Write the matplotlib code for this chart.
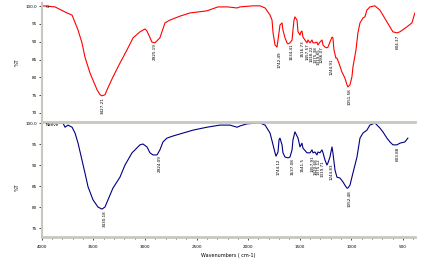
import matplotlib
matplotlib.use("Agg")
import matplotlib.pyplot as plt
from matplotlib.ticker import MultipleLocator, FixedLocator, AutoMinorLocator

# ---- data: sample "Cr" (top, red) ----
cr_wn = [3987, 3871, 3755, 3706, 3648, 3610, 3581, 3532, 3464, 3435, 3416, 3387,
         3367, 3310, 3242, 3174, 3115, 3048, 2999, 2980, 2932, 2903, 2855, 2806,
         2758, 2661, 2564, 2399, 2351, 2293, 2196, 2108, 2079, 1953, 1885, 1836,
         1788, 1769, 1759, 1740, 1721, 1711, 1692, 1672, 1663, 1643, 1624, 1614,
         1595, 1575, 1566, 1556, 1547, 1527, 1517, 1498, 1488, 1479, 1469, 1450,
         1430, 1421, 1401, 1382, 1372, 1353, 1334, 1324, 1305, 1285, 1275, 1256,
         1237, 1227, 1208, 1188, 1179, 1169, 1150, 1140, 1121, 1092, 1063, 1043,
         1034, 1014, 995, 985, 956, 937, 917, 888, 869, 850, 821, 772, 724, 695,
         656, 627, 598, 559, 530, 462, 414, 385]
cr_t = [100.1, 99.8, 98.1, 97.5, 93.3, 89.7, 85.7, 81.2, 76.5, 75.1, 74.8, 75.1,
        76.5, 80.1, 84.0, 87.7, 91.1, 92.8, 93.6, 93.0, 89.9, 89.7, 91.1, 95.3,
        96.1, 97.2, 98.1, 98.7, 99.2, 99.8, 99.8, 99.5, 99.8, 100.1, 100.1, 99.5,
        97.5, 96.1, 92.5, 89.1, 88.5, 90.5, 94.7, 95.3, 93.3, 91.1, 89.7, 89.4,
        89.7, 90.5, 93.3, 96.1, 97.0, 96.1, 92.8, 91.9, 92.8, 93.0, 91.3, 90.5,
        89.7, 90.5, 89.7, 90.5, 89.7, 89.7, 89.9, 89.1, 89.9, 90.5, 89.1, 88.5,
        88.3, 88.5, 89.9, 91.3, 91.1, 87.7, 85.4, 85.4, 84.0, 81.5, 79.8, 77.9,
        77.3, 77.9, 80.1, 82.9, 87.7, 92.5, 95.3, 96.7, 97.0, 98.9, 99.8, 100.1,
        98.9, 97.5, 95.6, 94.2, 92.8, 92.5, 92.8, 94.2, 95.3, 98.1]

# ---- data: sample "Native" (bottom, navy) ----
nat_wn = [3987, 3871, 3794, 3774, 3745, 3706, 3677, 3648, 3610, 3581, 3551, 3503,
          3455, 3416, 3387, 3358, 3310, 3242, 3193, 3125, 3048, 3019, 2980, 2951,
          2922, 2883, 2855, 2825, 2787, 2729, 2632, 2535, 2399, 2273, 2176, 2108,
          2079, 2011, 1914, 1885, 1836, 1788, 1759, 1740, 1730, 1711, 1701, 1692,
          1672, 1663, 1643, 1614, 1595, 1575, 1566, 1547, 1517, 1498, 1479, 1469,
          1430, 1401, 1382, 1372, 1353, 1334, 1324, 1305, 1285, 1275, 1256, 1237,
          1227, 1208, 1188, 1179, 1159, 1140, 1111, 1082, 1063, 1043, 1034, 1014,
          985, 946, 917, 888, 850, 821, 772, 724, 695, 656, 627, 598, 559, 530,
          482, 453]
nat_t = [100.2, 100.0, 100.0, 99.0, 99.5, 99.0, 97.6, 95.2, 91.2, 88.1, 84.8, 81.7,
         80.0, 79.5, 80.0, 81.7, 84.5, 87.1, 90.0, 92.9, 94.8, 95.0, 94.3, 92.9,
         92.4, 92.4, 93.6, 95.5, 96.4, 96.9, 97.6, 98.3, 99.0, 99.5, 99.5, 99.0,
         99.3, 99.8, 100.0, 100.0, 99.5, 97.6, 94.8, 92.9, 92.1, 93.1, 96.0, 96.4,
         94.8, 92.9, 91.9, 91.7, 91.9, 93.6, 96.0, 97.9, 96.4, 94.3, 95.2, 94.0,
         92.9, 92.9, 93.6, 92.9, 93.1, 92.4, 93.1, 92.9, 93.6, 92.9, 91.2, 90.0,
         90.5, 91.9, 94.3, 92.9, 88.8, 87.1, 86.9, 86.0, 85.2, 84.5, 84.5, 85.2,
         88.1, 91.9, 96.4, 97.6, 98.3, 99.5, 100.0, 98.8, 97.9, 96.4, 95.5, 94.8,
         94.8, 95.2, 95.5, 96.4]

# ---- peak labels ----
cr_peak_text = ["3427.21", "2925.19", "1742.49", "1634.41", "1516.73", "1457.57",
                "1418.22", "1375.38", "1319.85", "1286.07", "1244.91", "1051.58",
                "604.37"]
cr_peak_wn = [3406, 2903, 1692, 1575, 1469, 1421, 1382, 1343, 1314, 1285, 1188, 1014, 549]
cr_peak_t = [74.5, 89.5, 87.3, 89.5, 90.3, 89.5, 88.9, 88.9, 88.3, 88.9, 85.4, 77.0, 91.9]

nat_peak_text = ["3430.18", "2924.09", "1744.12", "1637.08", "1541.5", "1457.91",
                 "1420.68", "1375.12", "1319.71", "1244.83", "1052.48", "603.88"]
nat_peak_wn = [3387, 2855, 1701, 1566, 1469, 1372, 1343, 1314, 1275, 1188, 1014, 549]
nat_peak_t = [79.3, 92.4, 91.6, 91.6, 91.6, 92.4, 91.6, 91.6, 91.2, 90.4, 84.0, 94.3]

x_major = [4000, 3500, 3000, 2500, 2000, 1500, 1000, 500]

W, H = 425, 259
fig = plt.figure(figsize=(W / 100, H / 100), dpi=100)
fig.patch.set_facecolor("white")

GRAY = "#c8c8c0"
XL, XR = 41.7, 415


def px_axes(left, top, right, bottom):
    return fig.add_axes([left / W, 1 - bottom / H, (right - left) / W, (bottom - top) / H])


ax1 = px_axes(XL, 3, XR, 120)
ax2 = px_axes(XL, 122, XR, 237)

for ax in (ax1, ax2):
    ax.set_xlim(4000, 384)
    ax.set_facecolor("none")
    for s in ("top", "right", "bottom"):
        ax.spines[s].set_visible(False)
    ax.spines["left"].set_color(GRAY)
    ax.spines["left"].set_linewidth(1.5)
    ax.tick_params(axis="y", which="both", direction="out", color="black",
                   labelsize=3, pad=1.5, width=0.5)
    ax.tick_params(axis="y", which="major", length=2)
    ax.tick_params(axis="y", which="minor", length=1)
    ax.yaxis.set_minor_locator(AutoMinorLocator(3))

# top panel
ax1.plot(cr_wn, cr_t, color="#ff0000", lw=0.8)
ax1.set_ylim(68.0, 100.9)
ax1.yaxis.set_major_locator(FixedLocator([70, 75, 80, 85, 90, 95, 100]))
ax1.set_yticklabels(["70", "75", "80", "85", "90", "95", "100.0"])
ax1.set_xticks([])
ax1.text(3960, 100.3, "Cr", fontsize=3, va="top", ha="left")
for t, w, v in zip(cr_peak_text, cr_peak_wn, cr_peak_t):
    ax1.text(w, v, t, rotation=90, fontsize=3, ha="center", va="top")

# bottom panel
ax2.plot(nat_wn, nat_t, color="#000080", lw=0.8)
ax2.set_ylim(72.86, 100.24)
ax2.yaxis.set_major_locator(FixedLocator([75, 80, 85, 90, 95, 100]))
ax2.set_yticklabels(["75", "80", "85", "90", "95", "100.0"])
ax2.text(3960, 99.9, "Native", fontsize=3, va="top", ha="left")
for t, w, v in zip(nat_peak_text, nat_peak_wn, nat_peak_t):
    ax2.text(w, v, t, rotation=90, fontsize=3, ha="center", va="top")

ax2.spines["bottom"].set_visible(True)
ax2.spines["bottom"].set_color(GRAY)
ax2.spines["bottom"].set_linewidth(2)
ax2.spines["top"].set_visible(True)
ax2.spines["top"].set_color(GRAY)
ax2.spines["top"].set_linewidth(2)
ax2.xaxis.set_major_locator(FixedLocator(x_major))
ax2.xaxis.set_minor_locator(MultipleLocator(100))
ax2.set_xticklabels([str(v) for v in x_major])
ax2.tick_params(axis="x", which="both", direction="out", color="black",
                labelsize=3, pad=4, width=0.5)
ax2.tick_params(axis="x", which="major", length=2)
ax2.tick_params(axis="x", which="minor", length=1.2)
ax2.set_xlabel("Wavenumbers ( cm-1)", fontsize=3.5, labelpad=3)

fig.text(17 / W, 1 - 62 / H, "%T", rotation=90, fontsize=3.5, ha="center", va="center")
fig.text(17 / W, 1 - 187 / H, "%T", rotation=90, fontsize=3.5, ha="center", va="center")

fig.savefig("out.png", dpi=100)
